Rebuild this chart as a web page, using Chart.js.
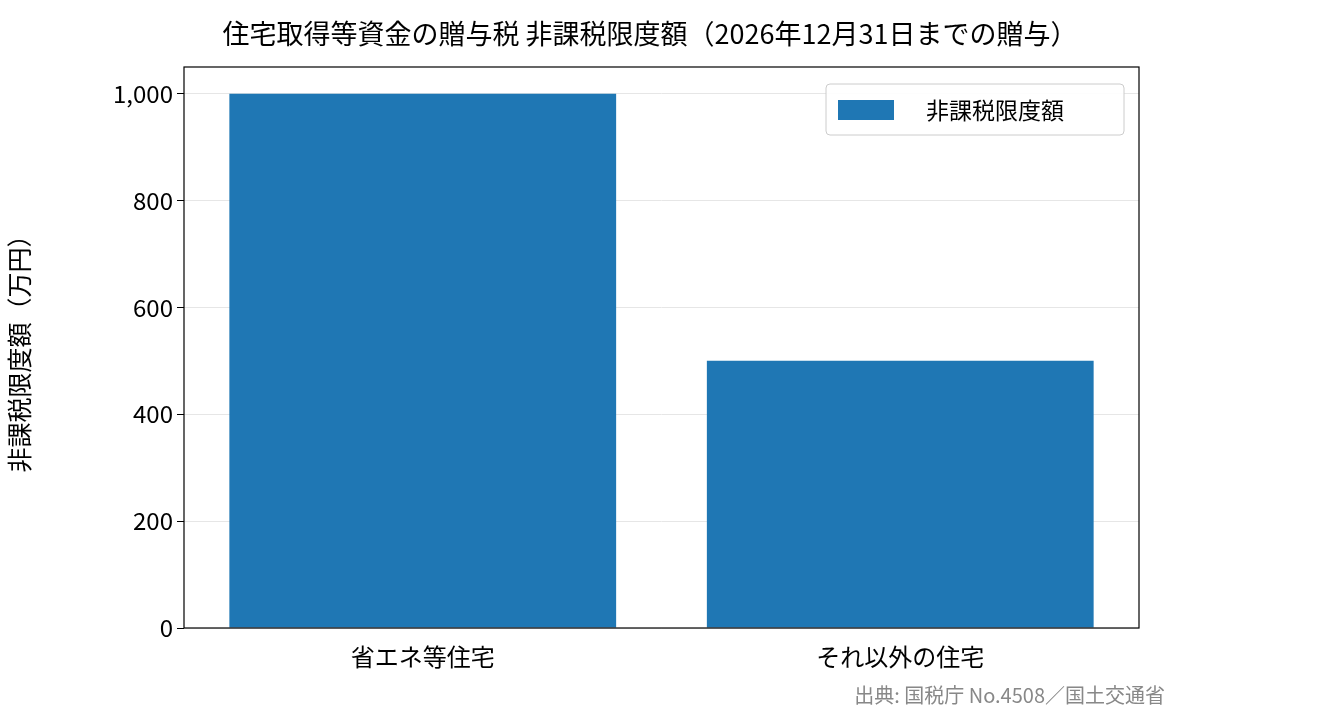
<!DOCTYPE html>
<html><head><meta charset="utf-8">
<script src="https://cdn.jsdelivr.net/npm/chart.js@4"></script>
<style>html,body{margin:0;padding:0;background:#fff}canvas{display:block}</style>
</head><body>
<div style="width:1324px;height:725px"><canvas id="c"></canvas></div>
<script>
const categories = ["省エネ等住宅", "それ以外の住宅"];
const values = [1000, 500];
const yTicks = [0, 200, 400, 600, 800, 1000];
const seriesName = "非課税限度額";
const titleText = "住宅取得等資金の贈与税 非課税限度額（2026年12月31日までの贈与）";
const sourceText = "出典: 国税庁 No.4508／国土交通省";
const F = '"Noto Sans CJK JP", "Noto Sans", sans-serif';
const deco = {
  id: 'deco',
  afterDraw(ch) {
    const c = ch.ctx, a = ch.chartArea;
    c.save();
    c.strokeStyle = '#000'; c.lineWidth = 1.2;
    c.strokeRect(a.left, a.top, a.right - a.left, a.bottom - a.top);
    c.fillStyle = '#000'; c.font = '27px ' + F; c.textAlign = 'center'; c.textBaseline = 'middle';
    c.fillText(titleText, 650, 34);
    c.fillStyle = '#888'; c.font = '20px ' + F; c.textAlign = 'right';
    c.fillText(sourceText, 1165, 695);
    // legend
    c.fillStyle = 'rgba(255,255,255,0.9)'; c.strokeStyle = '#ccc'; c.lineWidth = 1;
    c.beginPath(); c.roundRect(826, 84, 298, 51, 4); c.fill(); c.stroke();
    c.fillStyle = '#1f77b4'; c.fillRect(838, 100, 56, 20);
    c.fillStyle = '#000'; c.font = '23px ' + F; c.textAlign = 'left';
    c.fillText(seriesName, 926, 110);
    c.restore();
  }
};
new Chart(document.getElementById('c'), {
  type: 'bar',
  data: { labels: categories, datasets: [{ label: seriesName, data: values, backgroundColor: '#1f77b4', barPercentage: 0.81, categoryPercentage: 1 }] },
  options: {
    responsive: true, maintainAspectRatio: false, animation: false,
    devicePixelRatio: 1,
    layout: { padding: { top: 67, right: 185, left: 0, bottom: 0 } },
    plugins: { legend: { display: false }, tooltip: { enabled: false } },
    scales: {
      x: {
        grid: { display: false, drawTicks: true },
        border: { display: false },
        ticks: { color: '#000', font: { family: F, size: 24 }, padding: 6 },
        afterFit(s) { s.height = 97; }
      },
      y: {
        min: 0, max: 1050,
        afterBuildTicks(s) { s.ticks = yTicks.map(v => ({ value: v })); },
        grid: { color: '#e6e6e6', tickColor: '#000', tickLength: 7 },
        border: { display: false },
        ticks: { color: '#000', font: { family: F, size: 24 }, padding: 4, callback: v => v.toLocaleString('en-US') },
        title: { display: true, text: '非課税限度額（万円）', color: '#000', font: { family: F, size: 25 } },
        afterFit(s) { s.width = 184; }
      }
    }
  },
  plugins: [deco]
});
</script>
</body></html>
